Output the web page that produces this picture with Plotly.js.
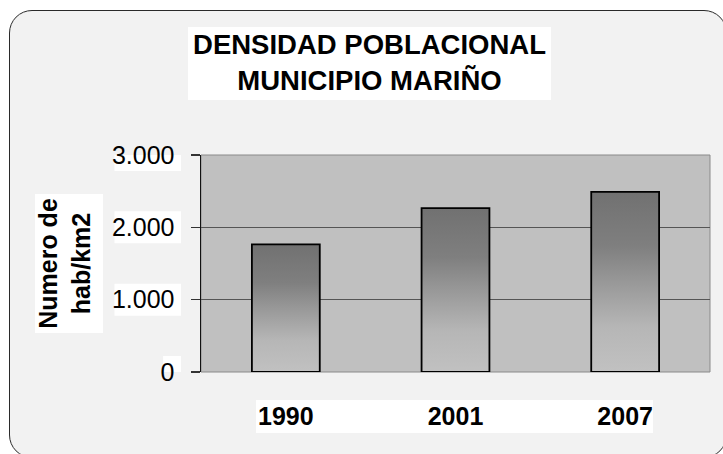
<!DOCTYPE html>
<html><head><meta charset="utf-8">
<script src="https://cdn.plot.ly/plotly-3.0.1.min.js"></script>
<style>
html,body{margin:0;padding:0;background:#fff;overflow:hidden;width:723px;height:454px;}
#frame{position:absolute;left:9px;top:10px;width:716px;height:446px;border:1.5px solid #2a2a2a;border-radius:23px;background:#f2f2f2;}
#chart{position:absolute;left:0;top:0;width:723px;height:454px;}
</style></head><body>
<div id="frame"></div><div id="chart"></div>
<script>
const years = ['1990', '2001', '2007'];
const density = [1765, 2265, 2490];
const yTickValues = [0, 1000, 2000, 3000];
const yTickLabels = ['0', '1.000', '2.000', '3.000'];
const chartTitle = 'DENSIDAD POBLACIONAL<br>MUNICIPIO MARIÑO';
const yTitle = 'Numero de<br>hab/km2';

const W = 723, H = 454, L = 201, R = 710, T = 155, B = 372;
const px = x => (x - L) / (R - L);
const py = y => (B - y) / (B - T);

const ctx = document.createElement('canvas').getContext('2d');
ctx.font = '25px Arial';

const shapes = [];
function whiteBox(x0, y0, x1, y1) {
  shapes.push({type: 'rect', xref: 'paper', yref: 'paper', x0: px(x0), x1: px(x1), y0: py(y1), y1: py(y0),
    fillcolor: '#ffffff', line: {width: 0}, layer: 'below'});
}
whiteBox(188, 27, 551, 100);   // title
whiteBox(35, 194, 103, 333);   // y title
whiteBox(256, 400, 653, 433);  // category labels
yTickValues.forEach((v, i) => {
  const w = ctx.measureText(yTickLabels[i]).width + 4;
  shapes.push({type: 'rect', xref: 'paper', yref: 'y', ysizemode: 'pixel', yanchor: v, y0: -16, y1: 16,
    x0: px(181 - w), x1: px(181), fillcolor: '#ffffff', line: {width: 0}, layer: 'below'});
});
shapes.push({type: 'rect', xref: 'paper', yref: 'paper', x0: 0, x1: 1, y0: 0, y1: 1,
  line: {color: '#8a8a8a', width: 1}, fillcolor: 'rgba(0,0,0,0)', layer: 'below'});

const data = [{
  type: 'bar', x: years, y: density,
  marker: {color: '#999999', line: {color: '#000000', width: 1.8}},
  hoverinfo: 'x+y'
}];

const layout = {
  width: W, height: H,
  margin: {l: L, r: W - R, t: T, b: H - B, pad: 0},
  paper_bgcolor: 'rgba(0,0,0,0)',
  plot_bgcolor: '#c0c0c0',
  bargap: 0.6,
  showlegend: false,
  font: {family: 'Arial, Liberation Sans, sans-serif', color: '#000'},
  title: {
    text: chartTitle,
    font: {family: 'Arial, Liberation Sans, sans-serif', size: 27.5, weight: 'bold', color: '#000'},
    x: 369.5 / W, xref: 'container', xanchor: 'center',
    y: 1 - 54 / H, yref: 'container', yanchor: 'top'
  },
  xaxis: {
    type: 'category', range: [-0.5, 2.5],
    showgrid: false, showline: false, zeroline: false, ticks: '',
    tickfont: {size: 25, weight: 'bold', color: '#000'},
    ticklabelstandoff: 27
  },
  yaxis: {
    range: [0, 3000],
    tickvals: yTickValues, ticktext: yTickLabels,
    ticks: 'outside', ticklen: 9, tickwidth: 1.5, tickcolor: '#333',
    showline: true, linecolor: '#111', linewidth: 1.5,
    showgrid: true, gridcolor: '#555555', gridwidth: 1.5,
    zeroline: false,
    tickfont: {size: 25, color: '#000'},
    ticklabelstandoff: 11,
    title: {text: yTitle, font: {size: 25, weight: 'bold', color: '#000'}, standoff: 14}
  },
  shapes: shapes
};

Plotly.newPlot('chart', data, layout, {displayModeBar: false, staticPlot: true}).then(gd => {
  const svg = gd.querySelector('.main-svg');
  const NS = 'http://www.w3.org/2000/svg';
  let defs = svg.querySelector('defs');
  if (!defs) { defs = document.createElementNS(NS, 'defs'); svg.insertBefore(defs, svg.firstChild); }
  const grad = document.createElementNS(NS, 'linearGradient');
  grad.setAttribute('id', 'barGrad');
  grad.setAttribute('x1', '0'); grad.setAttribute('y1', '0');
  grad.setAttribute('x2', '0'); grad.setAttribute('y2', '1');
  [[0, '#717171'], [0.3, '#7f7f7f'], [0.5, '#989898'], [0.75, '#b6b6b6'], [1, '#c1c1c1']].forEach(([o, c]) => {
    const s = document.createElementNS(NS, 'stop');
    s.setAttribute('offset', o); s.setAttribute('stop-color', c);
    grad.appendChild(s);
  });
  defs.appendChild(grad);
  gd.querySelectorAll('.bars .point path').forEach(p => { p.style.fill = 'url(#barGrad)'; });
});
</script>
</body></html>
